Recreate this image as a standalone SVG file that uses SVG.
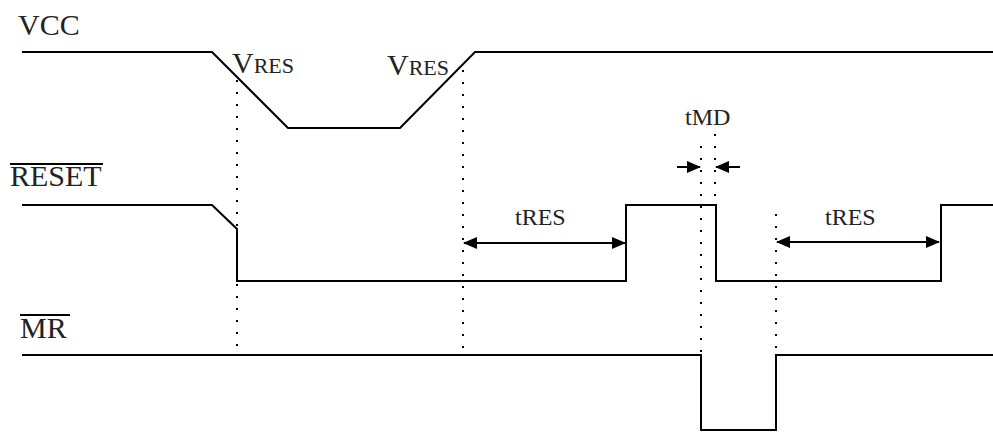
<svg xmlns="http://www.w3.org/2000/svg" width="993" height="434" viewBox="0 0 993 434">
<style>
.sig{fill:none;stroke:#000;stroke-width:2}
.dot{fill:none;stroke:#000;stroke-width:2;stroke-dasharray:2 10}
.arr{fill:none;stroke:#000;stroke-width:2}
.ovl{stroke:#000;stroke-width:2}
.t{font-family:'Liberation Serif','Times New Roman',serif;fill:#222}
.big{font-size:30px}
.mid{font-size:22px}
.sm{font-size:24px}
</style>
<defs>
<marker id="ah" markerWidth="14" markerHeight="12" refX="13" refY="6" orient="auto-start-reverse" markerUnits="userSpaceOnUse" viewBox="0 0 14 12">
<path d="M0,0 L14,6 L0,12 Z" fill="#000"/>
</marker>
</defs>
<g id="labels">
<text class="t big" x="18" y="35">VCC</text>
<text class="t big" x="10" y="186">RESET</text>
<line class="ovl" x1="10" y1="164" x2="103" y2="164"/>
<text class="t big" x="20" y="338">MR</text>
<line class="ovl" x1="20" y1="315" x2="70" y2="315"/>
<text class="t" x="232" y="73"><tspan class="big">V</tspan><tspan class="mid">RES</tspan></text>
<text class="t" x="387" y="75"><tspan class="big">V</tspan><tspan class="mid">RES</tspan></text>
<text class="t sm" x="515" y="225">tRES</text>
<text class="t sm" x="825" y="225">tRES</text>
<text class="t sm" x="685" y="125">tMD</text>
</g>
<g id="vcc">
<polyline class="sig" points="22,52 212,52 288,128 400,128 475,52 993,52"/>
</g>
<g id="reset">
<polyline class="sig" points="22,205 212,205 237,229 237,281 626,281 626,205 716,205 716,281 941,281 941,205 993,205"/>
</g>
<g id="mr">
<polyline class="sig" points="22,355 701,355 701,430 776,430 776,355 993,355"/>
</g>
<g id="connectors">
<line class="dot" x1="237" y1="80" x2="237" y2="352"/>
<line class="dot" x1="463" y1="70" x2="463" y2="352"/>
<line class="dot" x1="701" y1="146" x2="701" y2="352"/>
<line class="dot" x1="715" y1="134" x2="715" y2="200"/>
<line class="dot" x1="776" y1="214" x2="776" y2="352"/>
<line class="arr" x1="464" y1="243" x2="625" y2="243" marker-start="url(#ah)" marker-end="url(#ah)"/>
<line class="arr" x1="777" y1="242" x2="939" y2="242" marker-start="url(#ah)" marker-end="url(#ah)"/>
<line class="arr" x1="677" y1="167" x2="700" y2="167" marker-end="url(#ah)"/>
<line class="arr" x1="740" y1="167" x2="716" y2="167" marker-end="url(#ah)"/>
</g>
</svg>
